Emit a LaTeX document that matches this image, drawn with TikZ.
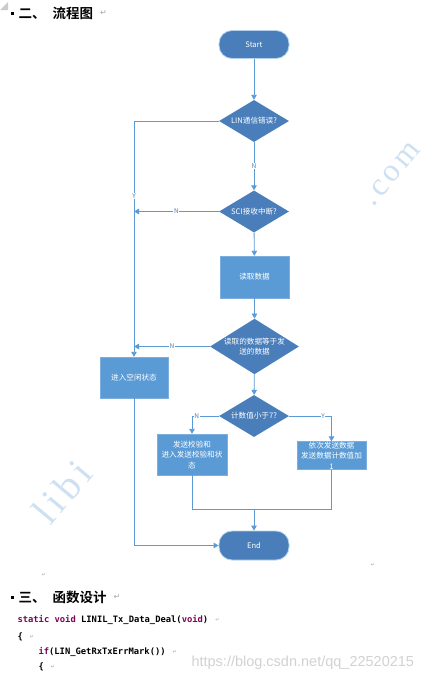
\documentclass[tikz,border=0pt]{standalone}
\usepackage{fontspec}
\setmainfont{Noto Sans CJK SC}[BoldFont={* Bold}]
\setmonofont{DejaVu Sans Mono}
\newfontfamily\symfont{DejaVu Sans}
\newfontfamily\blogfont{Liberation Sans}
\newfontfamily\wserif{Liberation Serif}[LetterSpace=12]
\usepackage{tikz}
\usetikzlibrary{positioning,arrows.meta,shapes.geometric}
\definecolor{flowdark}{HTML}{4A7EBB}
\definecolor{flowlight}{HTML}{5B9BD5}
\definecolor{flowline}{HTML}{5B9BD5}
\definecolor{kw}{HTML}{7F0055}
\tikzset{
  terminal/.style={rectangle,rounded corners=13pt,fill=flowdark,draw=flowlight!45,line width=.8pt,
    text=white,minimum width=70pt,minimum height=28pt,font=\fontsize{7.6}{9}\selectfont},
  decision/.style={diamond,aspect=1.6,fill=flowdark,text=white,inner sep=0pt,align=center,
    minimum width=70pt,minimum height=42pt,font=\fontsize{7.6}{10.5}\selectfont},
  process/.style={rectangle,fill=flowlight,draw=flowlight!80!white,text=white,inner sep=0pt,align=center,
    minimum width=69pt,minimum height=42pt,font=\fontsize{7.6}{10.5}\selectfont},
  flow/.style={draw=flowline,line width=.9pt},
  arrowed/.style={flow,-{Triangle[width=5.5pt,length=5pt]}},
  yn/.style={fill=white,inner sep=.6pt,text=flowdark!80!gray,font=\fontsize{6.5}{7}\selectfont},
  heading/.style={anchor=west,font=\fontsize{13.5}{15}\selectfont\bfseries},
  codeline/.style={anchor=west,font=\fontsize{8.8}{10}\selectfont\ttfamily\bfseries},
  retmark/.style={text=gray!70,font=\symfont\fontsize{5}{6}\selectfont},
  wmarkstyle/.style={text=flowlight!30,font=\wserif\fontsize{40}{40}\selectfont}
}

\begin{document}
\begin{tikzpicture}[x=1pt,y=-1pt]
\useasboundingbox (0,0) rectangle (442,681);
\fill[white] (0,0) rectangle (442,681);

% watermarks behind everything
\node[wmarkstyle,rotate=50] (wlibi) at (62,492) {libi};
\node[wmarkstyle,rotate=50,font=\wserif\fontsize{32}{32}\selectfont] (wcom) at (392,174) {.com};

% section heading
\fill[gray!40] (0,10) -- (8,2) -- (8,10) -- cycle;
\fill[black] (10.5,11.5) rectangle (13.5,14.5);
\node[heading] (sec2) at (15,13) {二、\hspace{7pt}流程图};
\node[retmark,anchor=west,font=\symfont\fontsize{8}{9}\selectfont] (sec2r) at (sec2.east) {↵};

% flow nodes
\node[terminal] (start) at (254,44.5) {Start};
\node[decision] (lin) at (254,121) {LIN通信错误?};
\node[decision] (sci) at (254,211.5) {SCI接收中断?};
\node[process] (read) at (254.5,277) {读取数据};
\node[decision,minimum width=87pt,minimum height=55pt] (cmp) at (254.5,346.5) {读取的数据等于发\\送的数据};
\node[process,minimum width=68pt,minimum height=41pt] (idle) at (134,377.5) {进入空闲状态};
\node[decision] (cnt) at (254,416) {计数值小于7?};
\node[process,minimum width=70pt,minimum height=41pt] (chk) at (192,454.5) {发送校验和\\进入发送校验和状\\态};
\node[process,minimum height=28pt] (send) at (331.5,455.5) {依次发送数据\\发送数据计数值加\\1};
\node[terminal,minimum height=29pt] (end) at (254,545.5) {End};
\coordinate (merge) at (254,509);

% connectors
\draw[arrowed] (start) -- (lin);
\draw[arrowed] (lin) -- node[yn] {N} (sci);
\draw[arrowed] (sci) -- (read);
\draw[arrowed] (read) -- (cmp);
\draw[arrowed] (cmp) -- (cnt);
\draw[arrowed] (lin.west) -| node[yn,pos=.66] {Y} (idle.north);
\draw[arrowed] (sci.west) -- node[yn] {N} (sci.west -| idle.north);
\draw[arrowed] (cmp.west) -- node[yn] {N} (cmp.west -| idle.north);
\draw[arrowed] (idle.south) |- (end.west);
\draw[arrowed] (cnt.west) -| node[yn,pos=.41] {N} (chk.north);
\draw[arrowed] (cnt.east) -| node[yn,pos=.4] {Y} (send.north);
\draw[flow] (chk.south) |- (merge);
\draw[flow] (send.south) |- (merge);
\draw[arrowed] (merge) -- (end.north);

% paragraph marks
\node[retmark] (mark1) at (44,575) {↵};
\node[retmark] (mark2) at (373,565) {↵};

% next section
\fill[black] (10.5,595.5) rectangle (13.5,598.5);
\node[heading] (sec3) at (15,597) {三、\hspace{7pt}函数设计};
\node[retmark,anchor=west,font=\symfont\fontsize{8}{9}\selectfont] (sec3r) at (sec3.east) {↵};

% code lines
\node[codeline] (code1) at (14,620) {\textcolor{kw}{static} \textcolor{kw}{void} LINIL\_Tx\_Data\_Deal(\textcolor{kw}{void})};
\node[retmark,anchor=west] (code1r) at (code1.east) {↵};
\node[codeline] (code2) at (14,637) {\{};
\node[retmark,anchor=west] (code2r) at (code2.east) {↵};
\node[codeline] (code3) at (35,652) {\textcolor{kw}{if}(LIN\_GetRxTxErrMark())};
\node[retmark,anchor=west] (code3r) at (code3.east) {↵};
\node[codeline] (code4) at (35,667) {\{};
\node[retmark,anchor=west] (code4r) at (code4.east) {↵};

% blog watermark
\node[anchor=west,text=gray!35,font=\blogfont\fontsize{14.5}{16}\selectfont] (wblog) at (188,663) {https://blog.csdn.net/qq\_22520215};
\end{tikzpicture}
\end{document}
